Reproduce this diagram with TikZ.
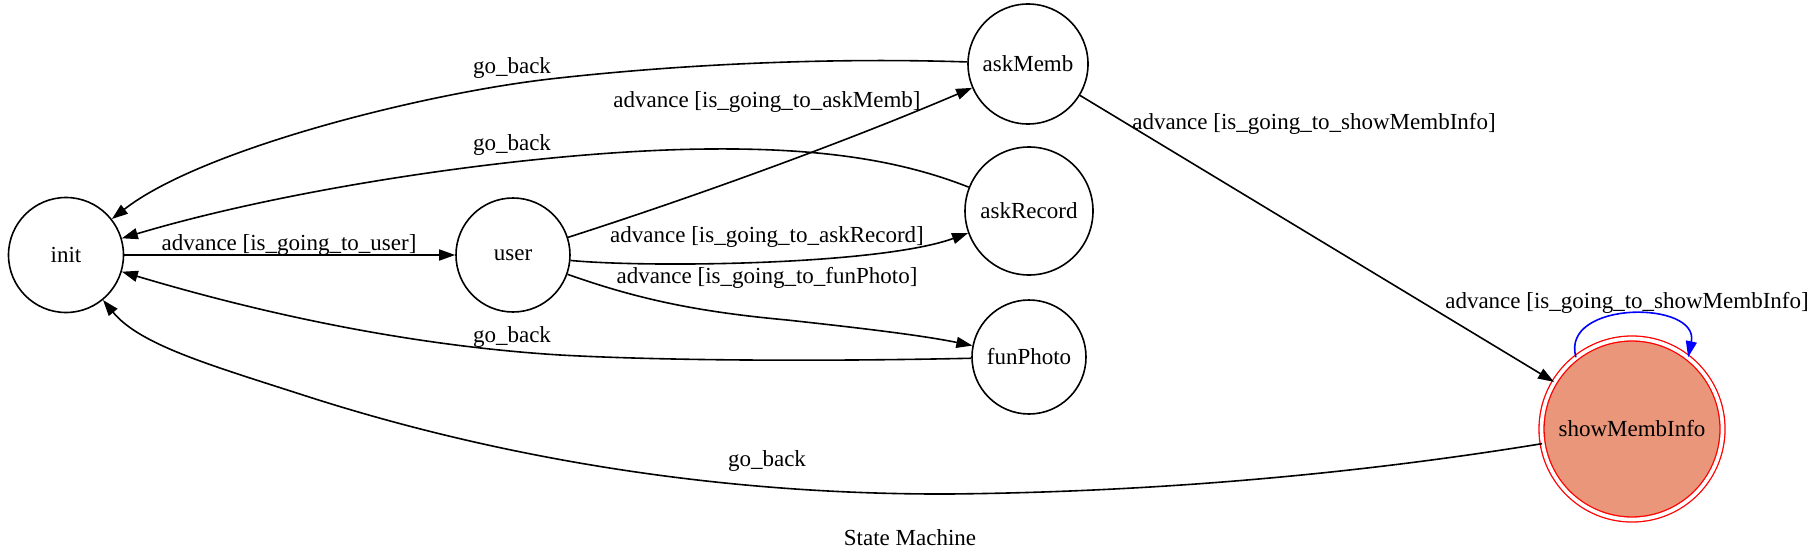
\documentclass[tikz,border=0pt]{standalone}
\usepackage{fontspec}
\setmainfont{Liberation Serif}
\usetikzlibrary{arrows.meta}
\definecolor{dsalmon}{RGB}{233,150,122}
\begin{document}
\begin{tikzpicture}[x=1pt,y=-1pt, font=\fontsize{23}{28}\selectfont,
  state/.style={circle, draw, line width=1.6pt, inner sep=0pt},
  edge/.style={line width=1.6pt, -{Triangle[length=16pt,width=11pt]}},
  lbl/.style={anchor=base, inner sep=0pt}]
\useasboundingbox (0,0) rectangle (1820,559);
% nodes
\node[state, minimum size=115pt] (init) at (66,255) {init};
\node[state, minimum size=114pt] (user) at (513,255) {user};
\node[state, minimum size=120pt] (askMemb) at (1028,64) {askMemb};
\node[state, minimum size=128pt] (askRecord) at (1029,211) {askRecord};
\node[state, minimum size=114pt] (funPhoto) at (1029,357) {funPhoto};
\node[circle, draw=red, fill=dsalmon, line width=1.3pt, double=white, double distance=3.7pt, inner sep=0pt, minimum size=181pt] (show) at (1632,429) {showMembInfo};
% edges
\draw[edge] (init) -- (user);
\draw[edge] (user) .. controls (700,195) and (850,140) .. (askMemb);
\draw[edge] (user) .. controls (650,268) and (880,265) .. (askRecord);
\draw[edge] (user) .. controls (640,300) and (700,312) .. (787,320) .. controls (860,328) and (920,335) .. (funPhoto);
\draw[edge] (askMemb) -- (show);
\draw[edge] (askMemb) .. controls (850,58) and (700,62) .. (550,79) .. controls (420,94) and (200,150) .. (init);
\draw[edge] (askRecord) .. controls (900,160) and (820,148) .. (710,149) .. controls (550,150) and (300,185) .. (init);
\draw[edge] (funPhoto) .. controls (800,362) and (650,360) .. (560,355) .. controls (400,345) and (250,310) .. (init);
\draw[edge] (show) .. controls (1350,475) and (1150,492) .. (950,494) .. controls (700,495) and (480,452) .. (306,396) .. controls (210,365) and (140,345) .. (init);
\draw[edge, draw=blue, -{Triangle[length=16pt,width=11pt,fill=blue]}] (show.128) .. controls (1560,300) and (1700,300) .. (show.52);
% labels
\node[lbl] (l1) at (289,250) {advance [is\_going\_to\_user]};
\node[lbl] (l2) at (767,108) {advance [is\_going\_to\_askMemb]};
\node[lbl] (l3) at (767,242) {advance [is\_going\_to\_askRecord]};
\node[lbl] (l4) at (767,283) {advance [is\_going\_to\_funPhoto]};
\node[lbl] (l5) at (1314,130) {advance [is\_going\_to\_showMembInfo]};
\node[lbl] (l6) at (1627,308) {advance [is\_going\_to\_showMembInfo]};
\node[lbl] (g1) at (512,74) {go\_back};
\node[lbl] (g2) at (512,150) {go\_back};
\node[lbl] (g3) at (512,342) {go\_back};
\node[lbl] (g4) at (767,466) {go\_back};
\node[lbl] (title) at (910,545) {State Machine};
\end{tikzpicture}
\end{document}
